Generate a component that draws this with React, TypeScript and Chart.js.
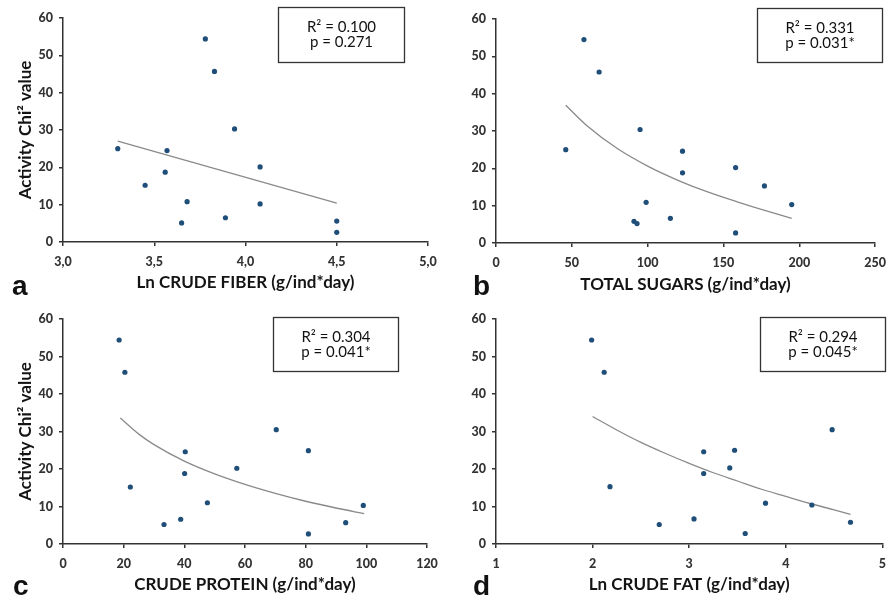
import React, { useEffect, useRef } from 'react';
import { Chart, registerables } from 'chart.js';

Chart.register(...registerables);

// ---------------- DATA ----------------
const yTickLabels = ['0', '10', '20', '30', '40', '50', '60'];

// a) Ln crude fiber
const fiberX = [3.30, 3.78, 3.83, 3.94, 3.57, 3.56, 3.45, 3.68, 3.65, 3.89, 4.08, 4.08, 4.50, 4.50];
const fiberY = [25.0, 54.4, 45.7, 30.3, 24.5, 18.7, 15.2, 10.8, 5.1, 6.5, 20.1, 10.2, 5.6, 2.6];
const fiberTrendX = [3.30, 4.50];
const fiberTrendY = [27.0, 10.4];
const fiberTicks = ['3,0', '3,5', '4,0', '4,5', '5,0'];

// b) Total sugars
const sugarX = [46, 58, 68, 95, 123, 123, 177, 99, 91, 93, 115, 158, 195, 158];
const sugarY = [25.0, 54.5, 45.8, 30.4, 24.6, 18.8, 15.3, 10.9, 5.8, 5.2, 6.6, 20.2, 10.3, 2.7];
const sugarTrendX = [46, 60, 80, 100, 120, 140, 160, 180, 195];
const sugarTrendY = [36.9, 31.4, 25.3, 20.6, 16.8, 13.6, 10.9, 8.4, 6.6];
const sugarTicks = ['0', '50', '100', '150', '200', '250'];

// c) Crude protein
const proteinX = [18.5, 20.4, 22.2, 33.3, 38.8, 40.1, 40.3, 47.6, 57.3, 70.3, 80.9, 80.9, 93.2, 99.0];
const proteinY = [54.4, 45.8, 15.2, 5.2, 6.6, 18.8, 24.6, 11.0, 20.2, 30.5, 24.9, 2.7, 5.7, 10.3];
const proteinTrendX = [18.9, 25, 30, 40, 50, 60, 70, 80, 90, 99.3];
const proteinTrendY = [33.6, 29.3, 26.5, 22.1, 18.7, 15.9, 13.5, 11.4, 9.6, 8.1];
const proteinTicks = ['0', '20', '40', '60', '80', '100', '120'];

// d) Ln crude fat
const fatX = [1.99, 2.12, 2.18, 2.69, 3.05, 3.15, 3.15, 3.42, 3.47, 3.58, 3.79, 4.27, 4.48, 4.67];
const fatY = [54.4, 45.8, 15.3, 5.2, 6.7, 18.8, 24.6, 20.3, 25.0, 2.8, 10.9, 10.4, 30.5, 5.8];
const fatTrendX = [2.0, 2.25, 2.5, 2.75, 3.0, 3.25, 3.5, 3.75, 4.0, 4.25, 4.5, 4.67];
const fatTrendY = [34.0, 30.4, 27.1, 24.2, 21.5, 19.0, 16.8, 14.6, 12.7, 10.8, 9.1, 7.9];
const fatTicks = ['1', '2', '3', '4', '5'];

const panelLetters = ['a', 'b', 'c', 'd'];
const xTitles = [
  'Ln CRUDE FIBER (g/ind*day)',
  'TOTAL SUGARS (g/ind*day)',
  'CRUDE PROTEIN (g/ind*day)',
  'Ln CRUDE FAT (g/ind*day)',
];
const yTitle = 'Activity Chi² value';
const r2Values = ['0.100', '0.331', '0.304', '0.294'];
const pValues = ['0.271', '0.031*', '0.041*', '0.045*'];

// ---------------- LAYOUT / STYLE ----------------
type PanelDef = {
  xs: number[]; ys: number[]; tx: number[]; ty: number[]; ticks: string[];
  min: number; max: number; step: number;
  left: number; top: number; w: number; h: number;
  area: { l: number; r: number; t: number; b: number };
  box: { x: number; y: number; w: number; h: number };
  letterX: number; showY: boolean; titleY: number;
};

const panels: PanelDef[] = [
  { xs: fiberX, ys: fiberY, tx: fiberTrendX, ty: fiberTrendY, ticks: fiberTicks, min: 3, max: 5, step: 0.5,
    left: 0, top: 0, w: 447, h: 300, area: { l: 63, r: 428, t: 18, b: 242 },
    box: { x: 278, y: 7, w: 126, h: 55 }, letterX: 12, showY: true, titleY: 283 },
  { xs: sugarX, ys: sugarY, tx: sugarTrendX, ty: sugarTrendY, ticks: sugarTicks, min: 0, max: 250, step: 50,
    left: 447, top: 0, w: 447, h: 300, area: { l: 49, r: 432, t: 19, b: 243 },
    box: { x: 310, y: 8, w: 125, h: 54 }, letterX: 26, showY: false, titleY: 285 },
  { xs: proteinX, ys: proteinY, tx: proteinTrendX, ty: proteinTrendY, ticks: proteinTicks, min: 0, max: 120, step: 20,
    left: 0, top: 300, w: 447, h: 301, area: { l: 63, r: 427, t: 19, b: 244 },
    box: { x: 273, y: 17, w: 125, h: 54 }, letterX: 13, showY: true, titleY: 285 },
  { xs: fatX, ys: fatY, tx: fatTrendX, ty: fatTrendY, ticks: fatTicks, min: 1, max: 5, step: 1,
    left: 447, top: 300, w: 447, h: 301, area: { l: 49, r: 439, t: 19, b: 244 },
    box: { x: 313, y: 17, w: 125, h: 54 }, letterX: 26, showY: false, titleY: 285 },
];

const AXIS_COLOR = '#333333';
const TICK_COLOR = '#333333';
const TEXT_COLOR = '#141414';
const POINT_COLOR = '#1f4e79';
const TREND_COLOR = '#8a8a8a';
const FONT = 'Lato';
const TITLE_SIZE = 17;

function Panel({ idx }: { idx: number }) {
  const ref = useRef<HTMLCanvasElement | null>(null);
  const p = panels[idx];

  useEffect(() => {
    if (!ref.current) return;
    const lh = TITLE_SIZE * 1.2;
    const annot = {
      id: 'annot' + idx,
      afterDraw(chart: any) {
        const ctx = chart.ctx as CanvasRenderingContext2D;
        ctx.save();
        // stats box
        ctx.strokeStyle = AXIS_COLOR;
        ctx.lineWidth = 1.3;
        ctx.strokeRect(p.box.x + 0.5, p.box.y + 0.5, p.box.w, p.box.h);
        ctx.fillStyle = '#111111';
        ctx.font = `15px ${FONT}`;
        ctx.textAlign = 'center';
        ctx.textBaseline = 'alphabetic';
        const cx = p.box.x + p.box.w / 2 + 0.5;
        ctx.fillText('R² = ' + r2Values[idx], cx, p.box.y + 25);
        ctx.fillText('p = ' + pValues[idx], cx, p.box.y + 40);
        // panel letter
        ctx.fillStyle = '#111111';
        ctx.font = `bold 28px "Liberation Sans", Arial, sans-serif`;
        ctx.textAlign = 'left';
        ctx.fillText(panelLetters[idx], p.letterX, 295);
        ctx.restore();
      },
    };

    const chart = new Chart(ref.current, {
      type: 'scatter',
      data: {
        datasets: [
          {
            type: 'scatter',
            data: p.xs.map((x, i) => ({ x, y: p.ys[i] })),
            pointRadius: 2.6,
            pointHoverRadius: 2.6,
            pointBackgroundColor: POINT_COLOR,
            pointBorderWidth: 0,
            borderColor: POINT_COLOR,
            order: 0,
          } as any,
          {
            type: 'line',
            data: p.tx.map((x, i) => ({ x, y: p.ty[i] })),
            borderColor: TREND_COLOR,
            borderWidth: 1.3,
            pointRadius: 0,
            tension: 0.4,
            cubicInterpolationMode: 'monotone',
            fill: false,
            order: 1,
          } as any,
        ],
      },
      options: {
        responsive: false,
        animation: false,
        events: [],
        layout: { padding: { left: 0, top: p.area.t, right: p.w - p.area.r, bottom: 0 } },
        plugins: { legend: { display: false }, tooltip: { enabled: false } },
        scales: {
          x: {
            type: 'linear',
            min: p.min,
            max: p.max,
            ticks: {
              stepSize: p.step,
              autoSkip: false,
              maxRotation: 0,
              padding: 8,
              color: TICK_COLOR,
              font: { family: FONT, size: 12.5, weight: '900' },
              callback: (_v: any, i: number) => p.ticks[i],
            },
            grid: { display: true, drawOnChartArea: false, drawTicks: true, tickLength: 4, color: AXIS_COLOR, lineWidth: 1.5 },
            border: { display: true, color: AXIS_COLOR, width: 1.5 },
            title: {
              display: true,
              text: xTitles[idx],
              color: TEXT_COLOR,
              font: { family: FONT, size: TITLE_SIZE, weight: 'bold' },
              padding: { top: 0, bottom: p.h - p.titleY - lh / 2 },
            },
            afterFit: (s: any) => { s.height = p.h - p.area.b; },
          },
          y: {
            type: 'linear',
            min: 0,
            max: 60,
            ticks: {
              stepSize: 10,
              padding: 6,
              color: TICK_COLOR,
              font: { family: FONT, size: 12.5, weight: '900' },
              callback: (_v: any, i: number) => yTickLabels[i],
            },
            grid: { display: true, drawOnChartArea: false, drawTicks: true, tickLength: 4, color: AXIS_COLOR, lineWidth: 1.5 },
            border: { display: true, color: AXIS_COLOR, width: 1.5 },
            title: {
              display: p.showY,
              text: yTitle,
              color: TEXT_COLOR,
              font: { family: FONT, size: 17, weight: 'bold' },
              padding: { top: 15, bottom: 0 },
            },
            afterFit: (s: any) => { s.width = p.area.l; },
          },
        },
      } as any,
      plugins: [annot],
    });
    return () => chart.destroy();
  }, [idx]);

  return (
    <div style={{ position: 'absolute', left: p.left, top: p.top, width: p.w, height: p.h }}>
      <canvas ref={ref} width={p.w} height={p.h} style={{ display: 'block', width: p.w, height: p.h }} />
    </div>
  );
}

export default function App() {
  return (
    <div style={{ position: 'absolute', left: 0, top: 0, width: 894, height: 601, background: '#ffffff', overflow: 'hidden' }}>
      {panels.map((_, i) => (
        <Panel key={i} idx={i} />
      ))}
    </div>
  );
}
